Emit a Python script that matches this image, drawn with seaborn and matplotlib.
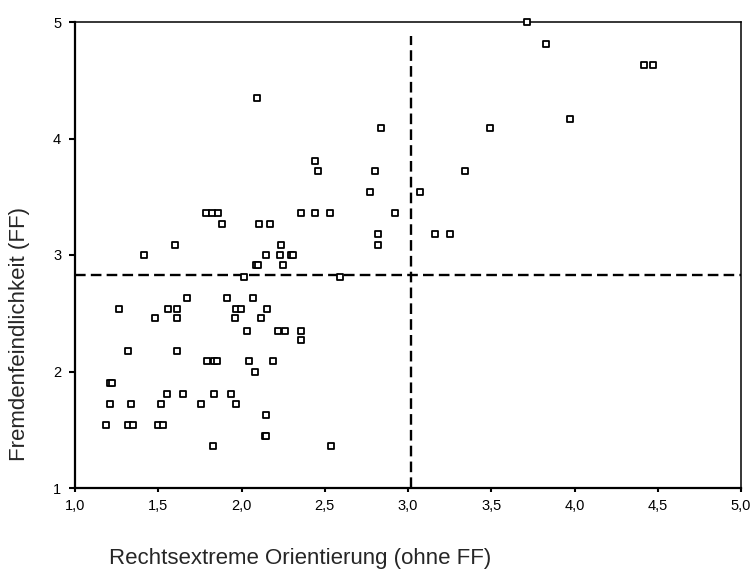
import pandas as pd
import matplotlib
matplotlib.use("Agg")
import matplotlib.pyplot as plt
import seaborn as sns

# values
orientierung = [2.095, 2.84, 2.44, 2.46, 2.80, 2.77, 1.787, 1.82, 1.857, 2.36,
                2.44, 2.53, 2.92, 1.883, 2.107, 2.17, 2.82, 2.82, 1.60, 2.24,
                1.416, 2.15, 2.23, 2.30, 2.31, 2.09, 2.10, 2.25, 2.013, 2.59,
                3.715, 3.83, 4.42, 4.47, 3.97, 3.49, 3.34, 3.07, 3.16, 3.25,
                1.673, 1.913, 2.07, 1.264, 1.56, 1.61, 1.967, 1.997, 2.153, 1.48,
                1.61, 1.963, 2.117, 2.033, 2.22, 2.26, 2.355, 2.355, 1.318, 1.61,
                1.793, 1.837, 1.855, 2.045, 2.19, 2.083, 1.21, 1.22, 1.553, 1.649,
                1.835, 1.937, 1.21, 1.336, 1.518, 1.758, 1.967, 2.15, 1.188, 1.32,
                1.348, 1.50, 1.53, 2.14, 2.15, 1.829, 2.54]
fremdenfeindlichkeit = [4.35, 4.09, 3.81, 3.72, 3.72, 3.54, 3.36, 3.36, 3.36, 3.36,
                        3.36, 3.36, 3.36, 3.27, 3.27, 3.27, 3.18, 3.09, 3.09, 3.09,
                        3.00, 3.00, 3.00, 3.00, 3.00, 2.91, 2.91, 2.91, 2.81, 2.81,
                        5.00, 4.81, 4.63, 4.63, 4.17, 4.09, 3.72, 3.54, 3.18, 3.18,
                        2.63, 2.63, 2.63, 2.54, 2.54, 2.54, 2.54, 2.54, 2.54, 2.46,
                        2.46, 2.46, 2.46, 2.35, 2.35, 2.35, 2.35, 2.27, 2.18, 2.18,
                        2.09, 2.09, 2.09, 2.09, 2.09, 2.00, 1.90, 1.90, 1.81, 1.81,
                        1.81, 1.81, 1.72, 1.72, 1.72, 1.72, 1.72, 1.63, 1.54, 1.54,
                        1.54, 1.54, 1.54, 1.45, 1.45, 1.36, 1.36]

# reference lines (means)
mittel_x = 3.02
mittel_y = 2.83
mittel_x_top = 4.88

x_ticks = [1.0, 1.5, 2.0, 2.5, 3.0, 3.5, 4.0, 4.5, 5.0]
x_ticklabels = ["1,0", "1,5", "2,0", "2,5", "3,0", "3,5", "4,0", "4,5", "5,0"]
y_ticks = [1, 2, 3, 4, 5]
y_ticklabels = ["1", "2", "3", "4", "5"]

df = pd.DataFrame({"x": orientierung, "y": fremdenfeindlichkeit})

sns.set_style("ticks")
plt.rcParams["font.family"] = ["Liberation Sans", "DejaVu Sans"]

fig = plt.figure(figsize=(7.53, 5.74), dpi=100)
ax = fig.add_axes([75 / 753, 1 - 488 / 574, 666 / 753, 466 / 574])

sns.scatterplot(data=df, x="x", y="y", ax=ax, marker="s", s=24,
                facecolor="white", edgecolor="black", linewidth=1.3,
                clip_on=False, zorder=3)

# dashed mean lines
ax.plot([1.0, 5.0], [mittel_y, mittel_y], color="black", lw=1.7,
        dashes=(4.5, 2.2), zorder=2)
ax.plot([mittel_x, mittel_x], [1.0, mittel_x_top], color="black", lw=1.7,
        dashes=(4.5, 2.2), zorder=2)

ax.set_xlim(1.0, 5.0)
ax.set_ylim(1.0, 5.0)
ax.set_xticks(x_ticks)
ax.set_xticklabels(x_ticklabels)
ax.set_yticks(y_ticks)
ax.set_yticklabels(y_ticklabels)
ax.tick_params(axis="both", labelsize=10.5, colors="black", width=1.5)
ax.tick_params(axis="x", length=3, pad=5)
ax.tick_params(axis="y", length=4, pad=6)

for side in ["left", "bottom"]:
    ax.spines[side].set_linewidth(1.6)
for side in ["top", "right"]:
    ax.spines[side].set_visible(True)
    ax.spines[side].set_linewidth(1.1)
for sp in ax.spines.values():
    sp.set_color("black")

ax.set_xlabel("Rechtsextreme Orientierung (ohne FF)", fontsize=16)
ax.set_ylabel("Fremdenfeindlichkeit (FF)", fontsize=16)
ax.xaxis.set_label_coords(0.338, -0.128)
ax.yaxis.set_label_coords(-0.068, 0.33)

fig.savefig("out.png", dpi=100)
